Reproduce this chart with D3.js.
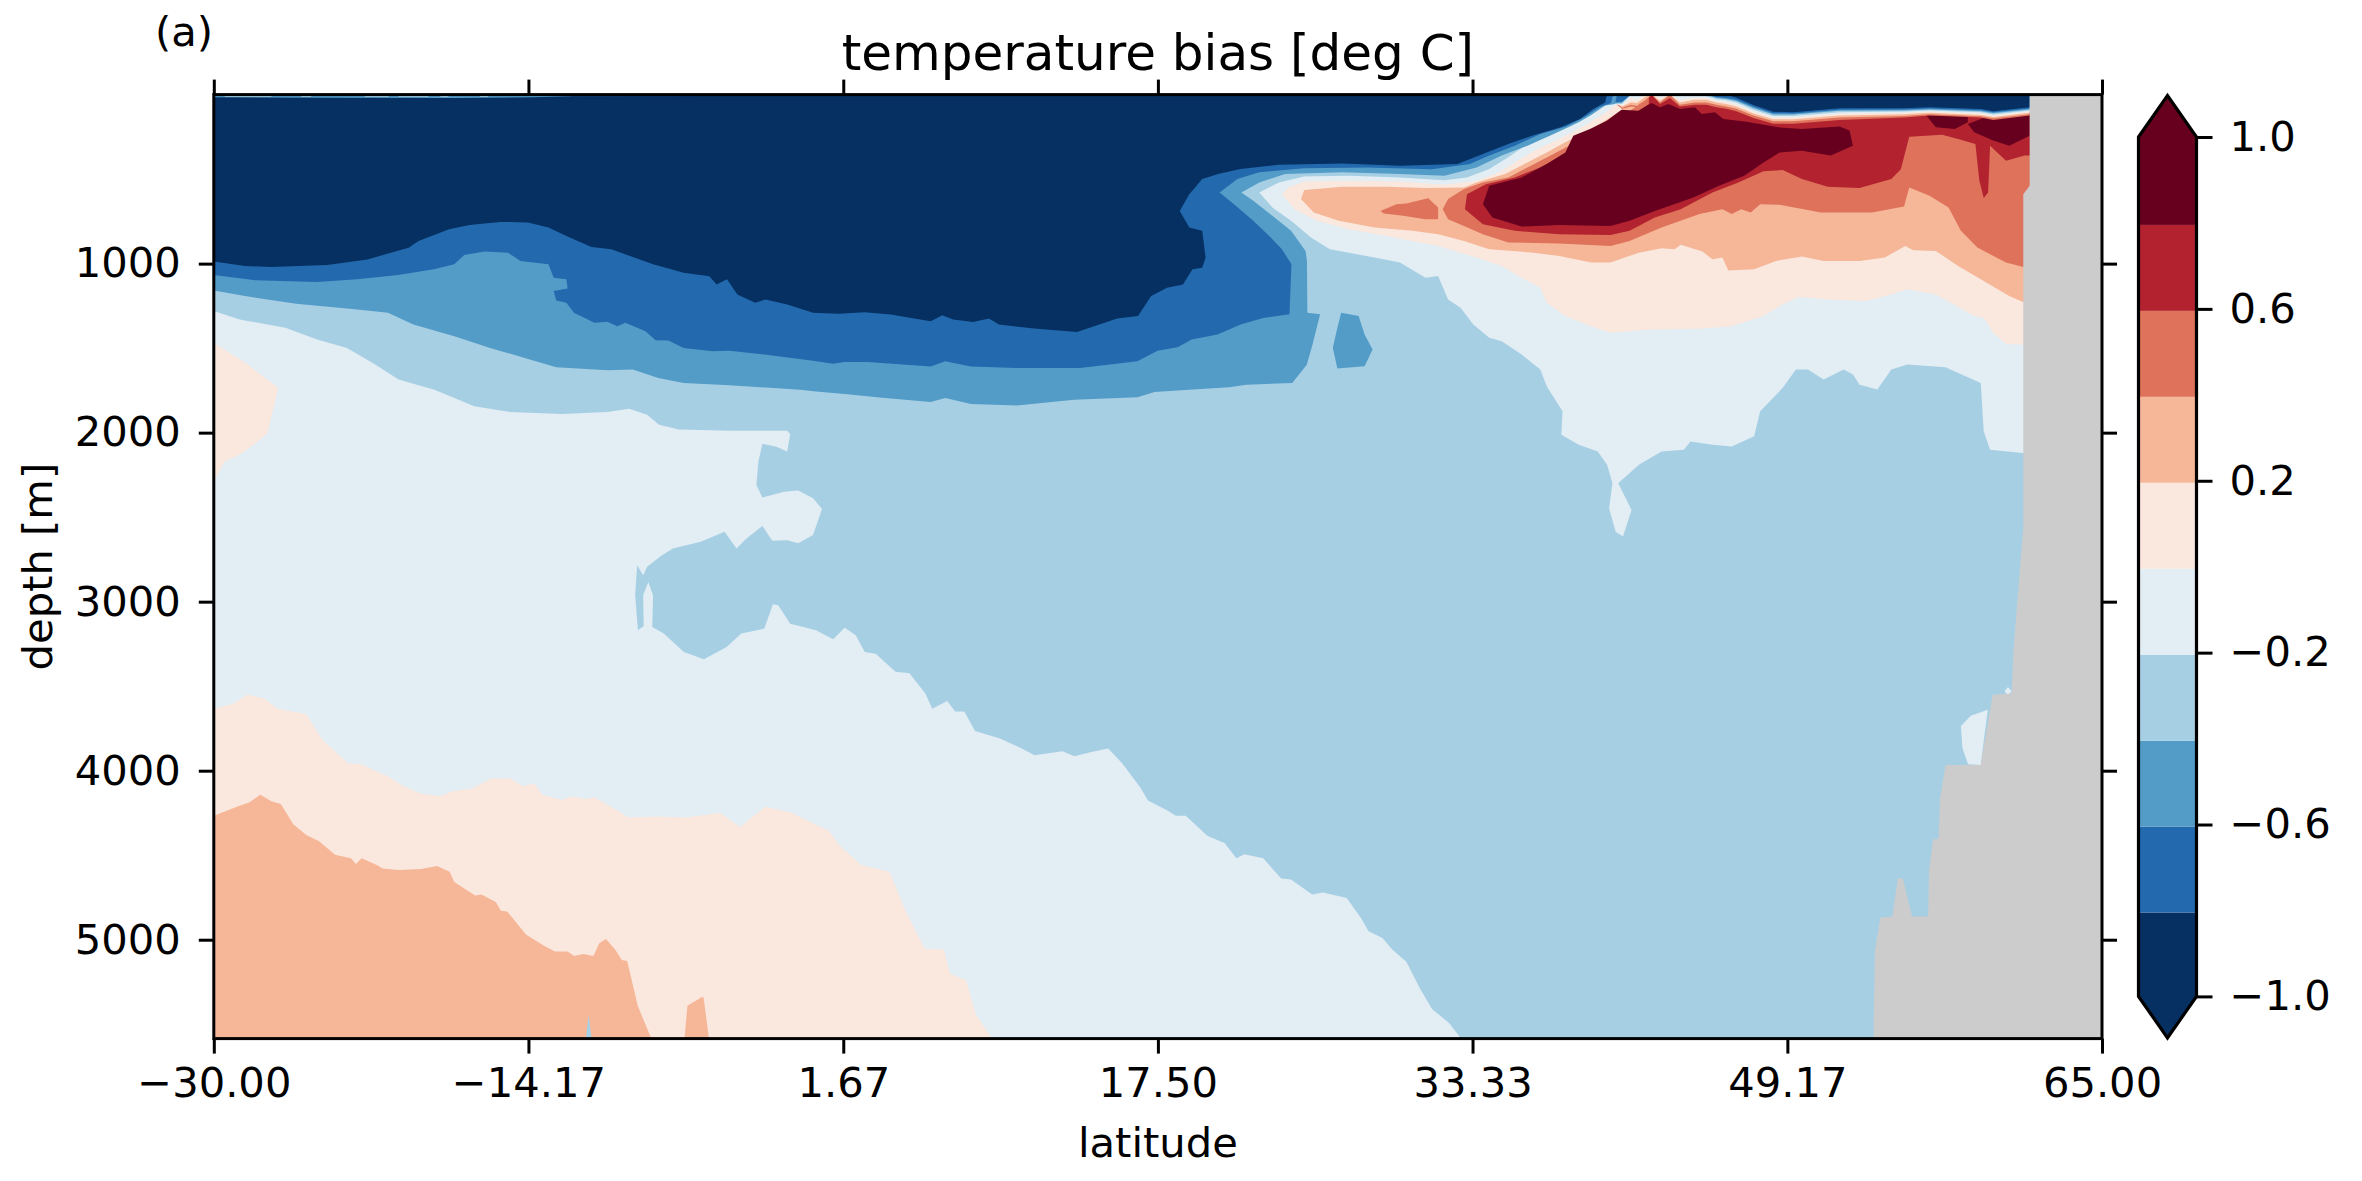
<!DOCTYPE html>
<html>
<head>
<meta charset="utf-8">
<script src="https://d3js.org/d3.v7.min.js"></script>
<style>
  body { margin: 0; background: #fff; }
  text { font-family: "DejaVu Sans"; fill: #000; }
</style>
</head>
<body>
<script>
// colour bands, coolest to warmest
var levels = [-1, -0.8, -0.6, -0.4, -0.2, 0, 0.2, 0.4, 0.6, 0.8, 1];
var bandColors = ["#053061", "#2369ae", "#539cc8", "#a7cfe4", "#e2edf4", "#fae7dd", "#f6b799", "#de725a", "#b2222f", "#67001f"];
var landColor = "#cccccc";

var latTicks = [-30, -14.17, 1.67, 17.5, 33.33, 49.17, 65];
var depthTicks = [1000, 2000, 3000, 4000, 5000];
var barTicks = [1, 0.6, 0.2, -0.2, -0.6, -1];

// contour outlines, all [latitude, depth]
var paleLeft = [[-30,1281],[-28.7,1330],[-26.4,1380],[-24.8,1449],[-23.3,1499],[-22,1588],[-20.7,1686],[-18.9,1746],[-16.9,1844],[-15.1,1878],[-12.5,1890],[-10.2,1878],[-9.1,1859],[-8.2,1894],[-7.6,1953],[-6.6,1981],[-4,1989],[-1.15,1989],[-1,2009],[-1.15,2112],[-1.7,2084],[-2.4,2066],[-2.6,2171],[-2.7,2309],[-2.4,2383],[-1.3,2349],[-0.6,2343],[0.15,2388],[0.6,2452],[0.15,2606],[-0.6,2655],[-1.15,2636],[-1.9,2640],[-2.4,2553],[-3.2,2626],[-3.7,2685],[-4.3,2586],[-5.5,2645],[-6.9,2685],[-7.5,2730],[-8.2,2794],[-8.4,2843],[-8.7,2784],[-8.8,2962],[-8.66,3169],[-8.37,3144],[-8.4,2962],[-8.14,2883],[-7.9,2962],[-7.94,3150],[-7.36,3189],[-6.35,3298],[-5.34,3341],[-4.2,3268],[-3.46,3189],[-2.3,3159],[-1.87,3015],[-1.6,3021],[-1,3130],[0.3,3169],[1.16,3223],[1.74,3155],[2.3,3199],[2.75,3298],[3.3,3308],[4.3,3414],[5,3424],[5.8,3544],[6.15,3634],[6.9,3588],[7.3,3650],[7.76,3650],[8.3,3765],[9.55,3809],[10.6,3865],[11.3,3909],[12.7,3885],[13.3,3915],[14.15,3889],[15,3869],[15.7,3956],[16.6,4096],[17,4177],[18,4237],[18.4,4267],[18.9,4267],[20,4387],[20.85,4428],[21.45,4518],[21.84,4494],[22.8,4518],[23.7,4638],[24.2,4644],[25.26,4733],[25.8,4721],[27,4753],[27.7,4869],[28.1,4950],[28.8,4990],[29.3,5060],[30,5130],[30.7,5291],[31.3,5411],[32.15,5492],[32.85,5600],[-30,5600]];
var paleRight = [[40.27,25],[39.3,114],[38.35,183],[37.06,253],[36.1,292],[35.13,371],[34.17,440],[33.05,490],[31.92,506],[29.68,490],[27.1,480],[24.86,484],[23.58,520],[22.6,579],[23.26,668],[24.2,747],[25.2,846],[26.15,915],[28.4,964],[29.68,994],[30.96,1083],[31.6,1073],[32.1,1212],[32.73,1261],[33.37,1360],[34.17,1439],[34.8,1459],[35.8,1538],[36.74,1627],[37.06,1726],[37.86,1874],[37.8,2012],[38.67,2072],[39.63,2111],[40.1,2190],[40.37,2299],[40.2,2447],[40.53,2586],[40.9,2615],[41.33,2457],[40.66,2299],[41.7,2190],[42.84,2111],[43.96,2101],[44.3,2052],[45.4,2072],[46.37,2082],[47.5,2022],[47.8,1874],[48.94,1735],[49.6,1627],[50.2,1627],[51,1686],[52,1627],[52.47,1656],[52.8,1716],[53.7,1745],[54.4,1627],[55.2,1597],[57.12,1613],[58.9,1706],[59.05,1993],[59.37,2101],[61,2121],[63,2121],[63,0],[40.27,0]];
var paleShelf = [[57.9,3735],[58.4,3675],[59.25,3640],[58.9,3966],[58.26,3962],[57.98,3865]];
var paleDot = [[60.1,3530],[60.27,3505],[60.45,3530],[60.27,3555]];
var paleSliver = [[-11.3,5600],[-11.14,5442],[-10.98,5600]];

var peachPatch = [[-30,1469],[-28.4,1588],[-26.76,1736],[-27.3,2003],[-27.9,2062],[-28.7,2131],[-29.45,2171],[-30,2289]];
var peachBottom = [[-30,3634],[-29.04,3604],[-28.3,3550],[-27.43,3574],[-26.8,3634],[-25.35,3665],[-24.55,3815],[-23.26,3956],[-22.6,3962],[-21.2,4036],[-20.54,4086],[-19.57,4136],[-18.6,4150],[-18,4122],[-17,4106],[-16.05,4046],[-15.08,4046],[-14.44,4092],[-13.86,4076],[-13.48,4142],[-12.5,4173],[-12.03,4152],[-11.23,4167],[-10.85,4157],[-9.95,4217],[-9.15,4277],[-7.7,4271],[-6.26,4277],[-4.5,4251],[-3.53,4333],[-2.25,4213],[-0.97,4247],[0.96,4357],[1.44,4438],[2.56,4558],[4,4598],[4.8,4829],[5.77,5054],[6.73,5060],[7.05,5201],[7.85,5241],[8.34,5442],[9.14,5582],[9.3,5600],[-30,5600]];
var peachRight = [[41.07,19],[39.95,114],[38.83,193],[37.54,272],[36.58,322],[35.6,391],[34.65,460],[33.53,510],[31.92,533],[29.68,514],[27.1,510],[24.86,514],[24.06,549],[23.74,589],[24.38,678],[25.5,747],[27.1,796],[29,836],[31.6,895],[33.53,964],[34.8,1014],[35.8,1083],[36.74,1142],[37.06,1231],[38,1310],[39.3,1370],[40.27,1409],[42.2,1390],[44.75,1386],[46.37,1370],[47.97,1310],[48.94,1241],[49.74,1198],[51.2,1212],[53.1,1221],[54.4,1182],[55.2,1152],[56.64,1182],[58.57,1310],[59.05,1320],[59.53,1409],[60.17,1475],[61,1479],[63,1479],[63,0],[41.07,0]];

var salmonBottom = [[-30,4267],[-28.7,4207],[-28.2,4187],[-27.66,4142],[-27.1,4181],[-26.63,4197],[-26,4317],[-25.35,4381],[-24.7,4418],[-23.9,4498],[-23.1,4518],[-22.85,4552],[-22.56,4518],[-21.8,4558],[-21.5,4578],[-20.7,4588],[-19.57,4582],[-18.77,4564],[-18.13,4598],[-17.9,4659],[-16.85,4739],[-16.53,4733],[-15.8,4779],[-15.56,4829],[-15.24,4833],[-14.28,4970],[-13.32,5040],[-12.84,5070],[-12.2,5070],[-11.87,5096],[-11.4,5084],[-10.9,5096],[-10.6,5020],[-10.27,4996],[-9.8,5060],[-9.47,5120],[-9.2,5126],[-8.67,5391],[-8,5582],[-7.9,5600],[-30,5600]];
var salmonSpike = [[-6.33,5600],[-6.17,5391],[-5.46,5341],[-5.36,5341],[-5.07,5600]];
var salmonRight = [[41.4,45],[40.27,134],[39.3,203],[38,282],[37.06,342],[35.94,411],[34.97,470],[33.53,520],[32.9,549],[30.96,553],[29,545],[26.8,545],[24.86,565],[24.7,618],[25.34,698],[26.6,747],[28.4,787],[30.3,806],[31.6,826],[32.9,866],[34.17,915],[36.4,935],[37.7,955],[39.3,994],[40.27,994],[41.7,935],[42.84,909],[43.5,915],[43.8,889],[44.9,929],[45.4,974],[45.9,964],[46.2,1040],[47.5,1034],[48.6,984],[49.9,958],[51,984],[52.8,984],[54.07,964],[55.1,895],[55.5,921],[56.64,925],[57.76,1014],[58.9,1093],[60.33,1192],[61,1225],[63,1225],[63,0],[41.4,0]];

var coralTongue = [[28.7,688],[29.5,648],[30,644],[31.1,613],[31.6,668],[31.6,737],[30.96,737],[29.84,717],[28.87,703]];
var coralRight = [[41.9,45],[40.75,134],[39.63,213],[38.35,292],[37.4,352],[36.26,421],[35.13,490],[33.85,520],[32.9,559],[32.1,618],[31.83,678],[32.1,737],[32.9,777],[33.85,826],[35.13,875],[37.7,881],[40.27,895],[41.23,866],[42.84,787],[44.75,707],[45.9,678],[46.37,707],[46.85,678],[47.33,698],[47.8,648],[48.78,652],[50.86,698],[53.43,698],[55.04,662],[55.3,549],[56.32,599],[57.28,668],[57.9,806],[58.73,905],[60.17,994],[61,1018],[63,1018],[63,0],[41.9,0]];

var redRight = [[42.2,55],[41.23,134],[40.1,223],[38.83,292],[37.86,361],[36.74,431],[35.46,490],[34,530],[33.05,589],[32.95,678],[33.85,767],[35.46,806],[37.7,826],[40.27,830],[41.23,806],[42.5,727],[43.8,678],[45.4,579],[46.7,520],[47.97,454],[48.94,446],[49.9,500],[51.2,545],[52.8,553],[54.4,500],[54.88,441],[55.3,249],[56.96,237],[57.76,263],[58.63,292],[58.83,510],[59.05,612],[59.27,579],[59.37,302],[60.17,391],[61.1,361],[63,361],[63,0],[42.2,0]];

var darkCore = [[40.83,89],[40.08,155],[39.24,204],[38.4,243],[38,342],[37.06,411],[35.8,490],[34.17,539],[33.85,648],[34.33,727],[35.8,781],[37.7,771],[40.27,777],[41.23,747],[42.5,688],[44.44,609],[45.73,539],[47,480],[47.97,401],[48.78,342],[49.9,332],[51.35,361],[52.47,302],[52.3,213],[51.8,189],[49.9,203],[48.8,194],[47.12,160],[45.95,145],[45.53,105],[44.86,115],[44.52,75],[43.77,85],[43.18,56],[42.76,75],[42.34,50],[41.67,95]];
var darkPatchA = [[56.16,124],[57.28,104],[58.25,114],[58.25,164],[57.6,203],[56.64,193]];
var darkPatchB = [[58.25,174],[59.37,124],[61.36,114],[61.36,243],[60.33,302],[59.53,272],[58.57,223]];

var midTop = [[-30,0],[-30,1159],[-28.43,1192],[-25.86,1238],[-22.78,1271],[-21.24,1291],[-19.96,1360],[-17.9,1429],[-16.1,1499],[-14.06,1568],[-12.77,1613],[-10.2,1631],[-8.92,1627],[-7.64,1676],[-6.36,1706],[-4.05,1720],[-0.5,1746],[0.29,1756],[1.74,1772],[3.76,1795],[6.07,1819],[6.8,1795],[8.09,1831],[10.4,1839],[13.29,1805],[16.47,1791],[17.33,1760],[19.07,1746],[21.09,1732],[21.95,1716],[24.26,1706],[24.99,1598],[25.28,1479],[25.66,1300],[25.02,1291],[25,984],[24.93,925],[24.2,806],[23.26,717],[22.3,628],[21.7,579],[22.6,520],[23.9,470],[26.8,460],[29.68,470],[31.92,480],[33.53,431],[34.8,361],[36.1,302],[37.4,233],[38.67,164],[39.3,120],[40,65],[40.5,55],[40.6,0]];
var midBlob = [[26.72,1290],[27.6,1310],[27.9,1419],[28.3,1508],[27.9,1607],[26.53,1621],[26.3,1498],[26.53,1380]];
var blueTop = [[-30,0],[-30,1068],[-27.9,1099],[-24.83,1109],[-22.78,1093],[-20.73,1068],[-18.93,1034],[-17.9,1004],[-17.4,949],[-16.37,929],[-15.2,935],[-14.57,985],[-13.16,1004],[-12.9,1083],[-12.26,1093],[-12.2,1147],[-12.9,1162],[-12.77,1218],[-12.26,1232],[-11.88,1291],[-10.85,1350],[-10.2,1344],[-9.7,1370],[-9.3,1350],[-8.28,1400],[-7.77,1453],[-7.13,1455],[-6.36,1499],[-4.9,1519],[-4.04,1515],[-2.3,1538],[0.15,1574],[1.16,1592],[1.74,1582],[2.9,1582],[6.07,1608],[6.8,1578],[8.09,1608],[10.4,1617],[13.58,1617],[16.47,1578],[17.48,1515],[18.49,1495],[19.2,1449],[20.5,1420],[21.66,1360],[22.8,1321],[24.12,1300],[24.22,1004],[23.74,915],[23.1,836],[22.3,747],[21.33,648],[20.6,579],[21.5,500],[22.6,460],[24.86,435],[28.07,431],[31.28,441],[33.2,411],[34.17,361],[35.46,302],[36.74,233],[38,190],[39,130],[39.7,75],[40.3,50],[40.4,0]];
var navyTop = [[-30,0],[-30,988],[-28.43,1014],[-27.14,1020],[-24.3,1008],[-22.27,975],[-20.2,906],[-19.7,866],[-18.16,797],[-17.13,771],[-15.6,753],[-14.2,757],[-13.16,787],[-12.26,836],[-11,902],[-10,915],[-7.9,1004],[-6.36,1054],[-5.07,1074],[-4.7,1123],[-4.18,1093],[-3.66,1182],[-2.76,1232],[-2.25,1212],[-1.15,1242],[0.15,1291],[1.45,1297],[2.75,1287],[4.05,1301],[6.07,1341],[6.65,1305],[7.2,1331],[8.2,1345],[9,1325],[9.5,1360],[11.27,1384],[13.43,1404],[14.44,1364],[15.45,1325],[16.5,1310],[17.16,1192],[17.96,1142],[18.76,1123],[19.24,1034],[19.73,1024],[19.9,964],[19.73,806],[19.08,787],[18.6,688],[19.08,589],[19.73,500],[20.53,470],[21.65,440],[23.58,415],[26.8,407],[29.68,421],[32.57,411],[33.85,352],[35.13,292],[36.4,240],[37.73,194],[38.74,145],[39.4,85],[40,46],[40.1,0]];

// thin noisy skin right at the surface, southern part
var skinMid = [[-30,0],[-30,16],[-24,18],[-18,20],[-14,16],[-12,10],[-12,0]];
var skinBlue = [[-12,0],[-12,10],[-5,8],[-5,0]];
var skinSpecks = [[-29.45,-27.1],[-25.6,-25.1],[-22.4,-21.2],[-20.7,-19.2],[-18.6,-18.2],[-16.6,-16.2]];

// surface caps north of the warm core: lower depth of each band
var capLat = [40,40.85,41.3,41.6,42,42.34,42.76,43.26,43.76,44.5,45.1,45.6,46.1,46.6,47.46,48.46,49.47,51.8,55.04,56.32,58.9,59.53,61.36];
var capCoral = [0,85,70,75,50,0,55,20,70,60,60,75,84,98,138,172,172,150,136,124,136,150,124];
var capSalmon = [0,78,60,66,35,0,46,0,60,46,46,60,70,84,124,158,158,136,126,116,128,140,116];
var capPeach = [0,70,45,50,15,0,36,0,46,30,30,46,56,70,112,146,146,124,116,108,120,132,108];
var capPale = [55,62,20,30,0,0,18,0,30,18,20,36,44,58,100,136,136,114,108,100,112,124,100];
var capLight = [55,55,0,0,0,0,0,0,0,0,10,28,34,46,90,126,126,104,100,94,104,117,94];
var capMid = [55,48,0,0,0,0,0,0,0,0,0,20,26,38,80,118,118,96,94,88,98,111,88];
var capBlue = [50,42,0,0,0,0,0,0,0,0,0,14,20,30,72,110,112,90,88,82,92,105,82];
var capNavy = [0,0,0,0,0,0,0,0,0,0,0,0,0,18,62,101,105,81,81,75,85,98,75];

var land = [[61.36,0],[61.36,540],[61.04,589],[61.04,2565],[60.9,2763],[60.55,3283],[60.45,3544],[59.5,3550],[58.9,3966],[57.13,3966],[56.85,4166],[56.78,4403],[56.5,4407],[56.3,4588],[56.25,4863],[55.44,4863],[54.98,4638],[54.73,4638],[54.45,4863],[53.85,4869],[53.57,5070],[53.5,5600],[65,5600],[65,0]];

var w = 2362;
var h = 1181;
var left = 213.8, right = 2102, top_ = 94.6, bottom = 1038.6;
var tickFont = 41.67;

var svg = d3.select("body").append("svg")
          .attr("width", w)
          .attr("height", h);

var x = d3.scaleLinear().domain([-30, 65]).range([left, right]);
var y = d3.scaleLinear().domain([0, 5585]).range([top_, bottom]);

svg.append("clipPath").attr("id", "plot")
   .append("rect")
   .attr("x", left).attr("y", top_)
   .attr("width", right - left).attr("height", bottom - top_);

var map = svg.append("g").attr("clip-path", "url(#plot)");

var line = d3.line()
             .x(function(d) { return x(d[0]); })
             .y(function(d) { return y(d[1]); });

// lightest-blue band is the background, the rest is painted over it
var C = {navy: bandColors[0], blue: bandColors[1], mid: bandColors[2], light: bandColors[3], pale: bandColors[4],
         peach: bandColors[5], salmon: bandColors[6], coral: bandColors[7], red: bandColors[8], dark: bandColors[9]};

map.append("rect")
   .attr("x", left).attr("y", top_)
   .attr("width", right - left).attr("height", bottom - top_)
   .attr("fill", C.light);

function fillPoly(pts, col)
{
   map.append("path").attr("d", line(pts) + "Z").attr("fill", col);
}

function fillCap(row, col)
{
   var area = d3.area()
                .x(function(d, i) { return x(capLat[i]); })
                .y0(y(0))
                .y1(function(d) { return y(d); });
   map.append("path").attr("d", area(row)).attr("fill", col);
}

fillPoly(paleLeft, C.pale);
fillPoly(paleRight, C.pale);
fillPoly(paleShelf, C.pale);
fillPoly(paleDot, C.pale);
fillPoly(peachPatch, C.peach);
fillPoly(peachBottom, C.peach);
fillPoly(peachRight, C.peach);
fillPoly(salmonBottom, C.salmon);
fillPoly(salmonSpike, C.salmon);
fillPoly(salmonRight, C.salmon);
fillPoly(paleSliver, C.light);
fillPoly(coralRight, C.coral);
fillPoly(coralTongue, C.coral);
fillPoly(redRight, C.red);
fillPoly(darkCore, C.dark);
fillPoly(darkPatchA, C.dark);
fillPoly(darkPatchB, C.dark);

fillCap(capCoral, C.coral);
fillCap(capSalmon, C.salmon);
fillCap(capPeach, C.peach);
fillCap(capPale, C.pale);
fillCap(capLight, C.light);
fillCap(capMid, C.mid);
fillCap(capBlue, C.blue);
fillCap(capNavy, C.navy);

fillPoly(midTop, C.mid);
fillPoly(midBlob, C.mid);
fillPoly(blueTop, C.blue);
fillPoly(navyTop, C.navy);
fillPoly(skinMid, C.mid);
fillPoly(skinBlue, C.blue);

map.selectAll("rect.speck").data(skinSpecks)
   .enter().append("rect")
   .attr("class", "speck")
   .attr("x", function(d) { return x(d[0]); })
   .attr("y", y(6))
   .attr("width", function(d) { return x(d[1]) - x(d[0]); })
   .attr("height", y(14) - y(6))
   .attr("fill", C.light);

fillPoly(land, landColor);

// axes on all four sides, labels only left and bottom
var latFmt = d3.format(".2f");
function styleAxis(g)
{
   g.selectAll("path").remove();
   g.selectAll("line").attr("stroke", "#000").attr("stroke-width", 3);
   g.selectAll("text").style("font-size", tickFont + "px");
}

svg.append("g").attr("transform", "translate(0," + bottom + ")")
   .call(d3.axisBottom(x).tickValues(latTicks).tickFormat(latFmt).tickSize(15).tickPadding(14))
   .call(styleAxis);
svg.append("g").attr("transform", "translate(0," + top_ + ")")
   .call(d3.axisTop(x).tickValues(latTicks).tickFormat("").tickSize(15))
   .call(styleAxis);
svg.append("g").attr("transform", "translate(" + left + ",0)")
   .call(d3.axisLeft(y).tickValues(depthTicks).tickFormat(d3.format("d")).tickSize(15).tickPadding(18))
   .call(styleAxis);
svg.append("g").attr("transform", "translate(" + right + ",0)")
   .call(d3.axisRight(y).tickValues(depthTicks).tickFormat("").tickSize(15))
   .call(styleAxis);

svg.append("rect")
   .attr("x", left).attr("y", top_)
   .attr("width", right - left).attr("height", bottom - top_)
   .attr("fill", "none").attr("stroke", "#000").attr("stroke-width", 3);

svg.append("text").text("temperature bias [deg C]")
   .attr("x", (left + right) / 2).attr("y", 69.5)
   .attr("text-anchor", "middle").style("font-size", "50px");
svg.append("text").text("latitude")
   .attr("x", (left + right) / 2).attr("y", 1157)
   .attr("text-anchor", "middle").style("font-size", tickFont + "px");
svg.append("text").text("depth [m]")
   .attr("transform", "translate(52," + (top_ + bottom) / 2 + ") rotate(-90)")
   .attr("text-anchor", "middle").style("font-size", tickFont + "px");
svg.append("text").text("(a)")
   .attr("x", 155).attr("y", 46)
   .style("font-size", tickFont + "px");

// colour bar with pointed ends, bands sit about 2px below their ticks
var barLeft = 2138.5, barRight = 2196.5;
var barMid = (barLeft + barRight) / 2;
var cb = d3.scaleLinear().domain([-1, 1]).range([996.4, 137]);
var tip = 41.5;
var bandShift = 2;
var bar = svg.append("g");

function bandTop(i) { return i == bandColors.length - 1 ? cb(1) : cb(levels[i + 1]) + bandShift; }
function bandBottom(i) { return i == 0 ? cb(-1) + 1 : cb(levels[i]) + bandShift; }

bar.selectAll("rect").data(bandColors)
   .enter().append("rect")
   .attr("x", barLeft)
   .attr("width", barRight - barLeft)
   .attr("y", function(d, i) { return bandTop(i); })
   .attr("height", function(d, i) { return bandBottom(i) - bandTop(i); })
   .attr("fill", function(d) { return d; });

bar.append("path")
   .attr("d", "M" + barLeft + "," + (cb(1) + 1) + "L" + barLeft + "," + cb(1) + "L" + barMid + "," + (cb(1) - tip) + "L" + barRight + "," + cb(1) + "L" + barRight + "," + (cb(1) + 1) + "Z")
   .attr("fill", bandColors[9]);
bar.append("path")
   .attr("d", "M" + barLeft + "," + (cb(-1) - 1) + "L" + barLeft + "," + cb(-1) + "L" + barMid + "," + (cb(-1) + tip) + "L" + barRight + "," + cb(-1) + "L" + barRight + "," + (cb(-1) - 1) + "Z")
   .attr("fill", bandColors[0]);
bar.append("path")
   .attr("d", "M" + barLeft + "," + cb(1) + "L" + barMid + "," + (cb(1) - tip) + "L" + barRight + "," + cb(1)
            + "L" + barRight + "," + cb(-1) + "L" + barMid + "," + (cb(-1) + tip) + "L" + barLeft + "," + cb(-1) + "Z")
   .attr("fill", "none").attr("stroke", "#000").attr("stroke-width", 3.2);

svg.append("g").attr("transform", "translate(" + barRight + ",0)")
   .call(d3.axisRight(cb).tickValues(barTicks).tickFormat(d3.format(".1f")).tickSize(16).tickPadding(17))
   .call(styleAxis);
</script>
</body>
</html>
